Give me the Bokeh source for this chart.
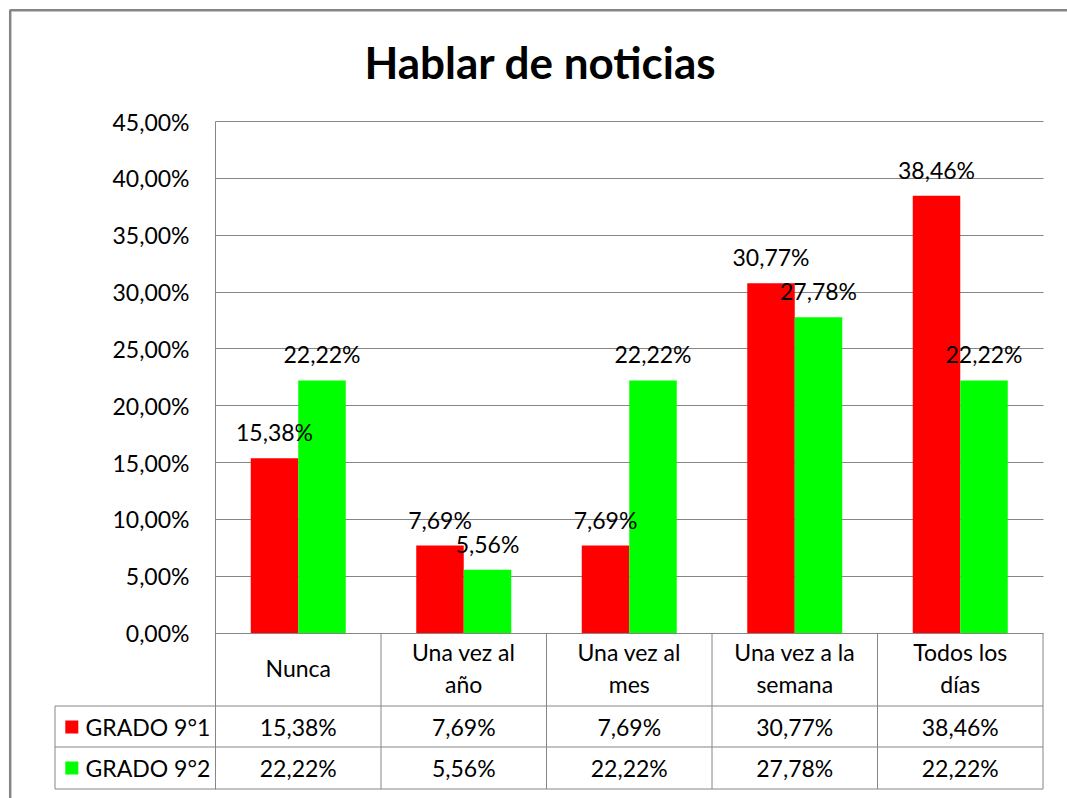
from bokeh.plotting import figure
from bokeh.models import Range1d, FixedTicker, ColumnDataSource, LinearAxis, Grid
from bokeh.core.properties import value
from bokeh.embed import file_html
from bokeh.resources import INLINE

# ---------------- data ----------------
categories = ["Nunca", "Una vez al\naño", "Una vez al\nmes", "Una vez a la\nsemana", "Todos los\ndías"]
series_names = ["GRADO 9°1", "GRADO 9°2"]
grado_91 = [15.38, 7.69, 7.69, 30.77, 38.46]
grado_92 = [22.22, 5.56, 22.22, 27.78, 22.22]
y_ticks = [0, 5, 10, 15, 20, 25, 30, 35, 40, 45]
y_tick_labels = ["0,00%", "5,00%", "10,00%", "15,00%", "20,00%", "25,00%",
                 "30,00%", "35,00%", "40,00%", "45,00%"]
colors = ["#FF0000", "#00FF00"]
title_text = "Hablar de noticias"


def fmt(v):
    return f"{v:.2f}".replace(".", ",") + "%"


# ---------------- layout constants (pixels of the 1067x798 canvas) ----------------
FONT = "Lato"
GRID = "#868686"
W, H = 1067, 798
PX_LEFT, PX_RIGHT = 215.0, 1042.5      # plot area left/right
PX_ZERO, PX_TOP = 632.5, 121.0         # y = 0 and y = 45
XU = (PX_RIGHT - PX_LEFT) / len(categories)
YU = (PX_ZERO - PX_TOP) / 45.0


def dx(px):
    return (px - PX_LEFT) / XU


def dy(py):
    return (PX_ZERO - py) / YU


ROW_HEAD_BOTTOM = dy(705.5)
ROW1_BOTTOM = dy(746.5)
ROW_BOTTOM = dy(788.5)
LEG_LEFT = dx(54.5)
BAR_W = 47.5 / XU
OFF = BAR_W / 2
FS = "23px"

p = figure(width=W, height=H, output_backend="svg", toolbar_location=None,
           x_range=Range1d(dx(0), dx(W)), y_range=Range1d(dy(H), dy(0)),
           x_axis_location=None, y_axis_location=None,
           min_border=0, min_border_left=0, min_border_right=0,
           min_border_top=0, min_border_bottom=0,
           background_fill_color="white", border_fill_color="white")
p.outline_line_color = None
p.xgrid.visible = False
p.ygrid.visible = False

yaxis = LinearAxis(ticker=FixedTicker(ticks=y_ticks), fixed_location=0, bounds=(ROW_BOTTOM, 45))
yaxis.major_label_overrides = {t: l for t, l in zip(y_ticks, y_tick_labels)}
yaxis.major_tick_line_color = None
yaxis.minor_tick_line_color = None
yaxis.major_tick_out = 0
yaxis.major_tick_in = 0
yaxis.major_label_standoff = 26
yaxis.axis_line_color = GRID
yaxis.major_label_text_font = FONT
yaxis.major_label_text_font_size = FS
yaxis.major_label_text_color = "black"
p.add_layout(yaxis, "left")

p.add_layout(Grid(dimension=1, ticker=FixedTicker(ticks=y_ticks), grid_line_color=GRID,
                  bounds=(0, 45), cross_bounds=(0, 5)))

# outer chart border (only its left and top edges fall inside the picture)
p.line(x=[dx(9.7), dx(9.7), dx(W + 50)], y=[dy(H + 50), dy(9.7), dy(9.7)],
       line_color=GRID, line_width=2.5)

# title
p.text(x=[dx(540)], y=[dy(61)], text=[title_text], text_font=value(FONT), text_font_size="44px",
       text_font_style="bold", text_align="center", text_baseline="middle", text_color="black")

# bars
xs = [i + 0.5 for i in range(len(categories))]
src = ColumnDataSource(dict(
    x1=[x - OFF for x in xs], x2=[x + OFF for x in xs],
    v1=grado_91, v2=grado_92,
    l1=[fmt(v) for v in grado_91], l2=[fmt(v) for v in grado_92],
))
p.vbar(x="x1", top="v1", bottom=0, width=BAR_W, source=src, fill_color=colors[0], line_color=None)
p.vbar(x="x2", top="v2", bottom=0, width=BAR_W, source=src, fill_color=colors[1], line_color=None)

p.text(x="x1", y="v1", text="l1", source=src, text_font=value(FONT), text_font_size=FS,
       text_align="center", text_baseline="middle", y_offset=-26, text_color="black")
p.text(x="x2", y="v2", text="l2", source=src, text_font=value(FONT), text_font_size=FS,
       text_align="center", text_baseline="middle", y_offset=-26, text_color="black")

# data table below the chart
for i in range(1, len(categories) + 1):
    p.segment(x0=i, y0=0, x1=i, y1=ROW_BOTTOM, line_color=GRID, line_width=1)
p.segment(x0=LEG_LEFT, y0=ROW_HEAD_BOTTOM, x1=LEG_LEFT, y1=ROW_BOTTOM, line_color=GRID, line_width=1)
for yy in [ROW_HEAD_BOTTOM, ROW1_BOTTOM, ROW_BOTTOM]:
    p.segment(x0=LEG_LEFT, y0=yy, x1=5, y1=yy, line_color=GRID, line_width=1)

tsrc = ColumnDataSource(dict(x=xs, cat=categories,
                             l1=[fmt(v) for v in grado_91], l2=[fmt(v) for v in grado_92]))
p.text(x="x", y=dy(667.5), text="cat", source=tsrc, text_font=value(FONT), text_font_size=FS,
       text_align="center", text_baseline="middle", text_line_height=1.145, text_color="black")
p.text(x="x", y=dy(726), text="l1", source=tsrc, text_font=value(FONT), text_font_size=FS,
       text_align="center", text_baseline="middle", text_color="black")
p.text(x="x", y=dy(767.5), text="l2", source=tsrc, text_font=value(FONT), text_font_size=FS,
       text_align="center", text_baseline="middle", text_color="black")

# legend keys in the table
lsrc = ColumnDataSource(dict(x=[dx(71.3)] * 2, y=[dy(726.5), dy(767.5)], c=colors,
                             tx=[dx(85)] * 2, name=series_names))
p.scatter(x="x", y="y", source=lsrc, marker="square", size=13, fill_color="c", line_color=None)
p.text(x="tx", y="y", text="name", source=lsrc, text_font=value(FONT), text_font_size=FS,
       text_align="left", text_baseline="middle", text_color="black")

open("out.html", "w").write(file_html(p, INLINE))
